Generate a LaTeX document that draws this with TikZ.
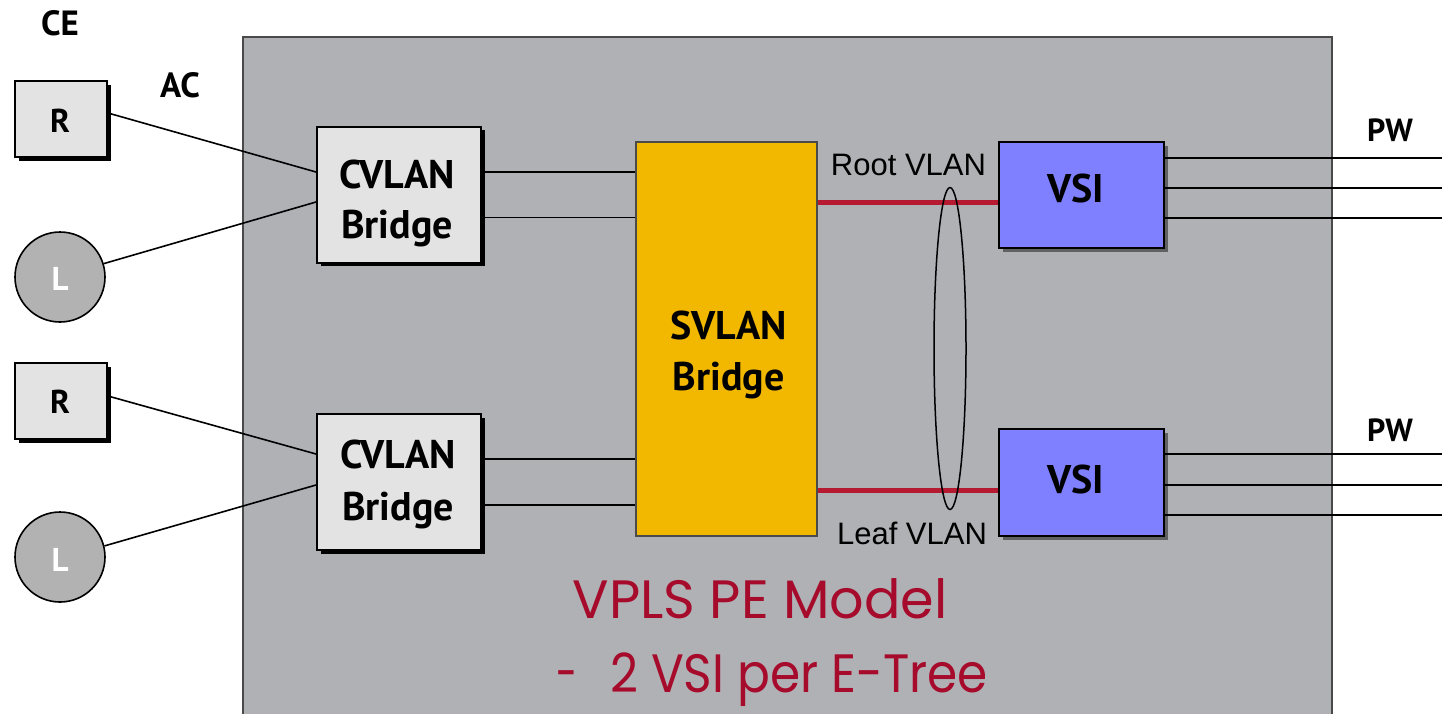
\documentclass[tikz,border=0pt]{standalone}
\usepackage{fontspec}
\setmainfont{PT Sans}
\newfontfamily\titlefont{Poppins}
\newfontfamily\arialfont{Liberation Sans}
\usetikzlibrary{shapes.geometric,shadows}
\definecolor{pebg}{HTML}{B0B1B5}
\definecolor{peedge}{HTML}{4A4A4A}
\definecolor{boxgray}{HTML}{E3E3E3}
\definecolor{circgray}{HTML}{B2B2B2}
\definecolor{svlanfill}{HTML}{F2B800}
\definecolor{vsiblue}{HTML}{7F80FF}
\definecolor{vlanred}{HTML}{B51A30}
\definecolor{titlered}{HTML}{A60B2C}
\begin{document}
\begin{tikzpicture}[x=1pt,y=-1pt,
  conn/.style={line width=1.6pt, black},
  vlanline/.style={line width=5pt, vlanred},
  rbox/.style={rectangle, draw=black, line width=2pt, fill=boxgray, inner sep=0pt,
    drop shadow={shadow xshift=3.5pt, shadow yshift=-3.5pt, fill=black, opacity=1}},
  lcirc/.style={circle, draw=black, line width=1.6pt, fill=circgray, inner sep=0pt, minimum size=90pt},
  svbox/.style={rectangle, draw=peedge, line width=1.6pt, fill=svlanfill, inner sep=0pt},
  vsibox/.style={rectangle, draw=black, line width=2.5pt, fill=vsiblue, inner sep=0pt,
    drop shadow={shadow xshift=4pt, shadow yshift=-4pt, fill=black, opacity=0.45}},
  bigbold/.style={font=\fontsize{40}{48}\selectfont\bfseries, anchor=base, inner sep=0pt},
  smallbold/.style={font=\fontsize{33}{38}\selectfont\bfseries, anchor=base, inner sep=0pt},
  headbold/.style={font=\fontsize{35}{42}\selectfont\bfseries, anchor=base, inner sep=0pt},
  vlantext/.style={font=\arialfont\fontsize{31}{36}\selectfont, anchor=base, inner sep=0pt},
  titletext/.style={font=\titlefont\fontsize{54}{62}\selectfont, text=titlered, anchor=base, inner sep=0pt}
]
\useasboundingbox (0,0) rectangle (1442,713);
\fill[white] (0,0) rectangle (1442,713);

% PE container
\node[rectangle, draw=peedge, line width=1.6pt, fill=pebg, inner sep=0pt,
  minimum width=1089pt, minimum height=700pt, anchor=north west] (pe) at (242,36) {};

% CE devices
\node[rbox, minimum width=92pt, minimum height=76pt] (r1) at (61,119) {};
\node[lcirc] (l1) at (60,277) {};
\node[rbox, minimum width=92pt, minimum height=76pt] (r2) at (61,401) {};
\node[lcirc, minimum height=86pt] (l2) at (60,557) {};

% CVLAN bridges
\node[rbox, minimum width=164pt, minimum height=136pt] (cv1) at (399,194.5) {};
\node[rbox, minimum width=164pt, minimum height=136pt] (cv2) at (399,482) {};

% SVLAN bridge
\node[svbox, minimum width=181pt, minimum height=394pt] (sv) at (726.5,339) {};

% VSIs
\node[vsibox, minimum width=165pt, minimum height=106pt] (vsi1) at (1081.5,195) {};
\node[vsibox, minimum width=165pt, minimum height=107pt] (vsi2) at (1081.5,482.5) {};

% AC connectors
\draw[conn] ([yshift=6pt]r1.east) -- ([yshift=22.5pt]cv1.west);
\draw[conn] (l1.17) -- ([yshift=-7.5pt]cv1.west);
\draw[conn] ([yshift=5pt]r2.east) -- ([yshift=28pt]cv2.west);
\draw[conn] (l2.14) -- ([yshift=-3pt]cv2.west);

% CVLAN to SVLAN
\coordinate (c1a) at ([yshift=22.5pt]cv1.east);
\coordinate (c1b) at ([yshift=-23pt]cv1.east);
\coordinate (c2a) at ([yshift=23pt]cv2.east);
\coordinate (c2b) at ([yshift=-23pt]cv2.east);
\draw[conn] (c1a) -- (c1a -| sv.west);
\draw[conn] (c1b) -- (c1b -| sv.west);
\draw[conn] (c2a) -- (c2a -| sv.west);
\draw[conn] (c2b) -- (c2b -| sv.west);

% VLAN lines
\coordinate (rv1) at ([yshift=-7.5pt]vsi1.west);
\coordinate (rv2) at ([yshift=-7.5pt]vsi2.west);
\draw[vlanline] (rv1 -| sv.east) -- (rv1);
\draw[vlanline] (rv2 -| sv.east) -- (rv2);

% grouping ellipse
\node[ellipse, draw=black, line width=1.5pt, inner sep=0pt,
  minimum width=32pt, minimum height=322pt] (grp) at (950,348.5) {};

% PW lines
\coordinate (pw1a) at (1442,158);
\coordinate (pw1b) at (1442,188);
\coordinate (pw1c) at (1442,218);
\coordinate (pw2a) at (1442,454);
\coordinate (pw2b) at (1442,485);
\coordinate (pw2c) at (1442,515);
\foreach \p in {pw1a,pw1b,pw1c}{\draw[conn] (vsi1.east |- \p) -- (\p);}
\foreach \p in {pw2a,pw2b,pw2c}{\draw[conn] (vsi2.east |- \p) -- (\p);}

% texts
\node[headbold] (tce) at (60,35) {CE};
\node[headbold] (tac) at (180,97) {AC};
\node[smallbold] (tr1) at (60,132) {R};
\node[smallbold, text=white] (tl1) at (60,290) {L};
\node[smallbold] (tr2) at (60,413) {R};
\node[smallbold, text=white] (tl2) at (60,571) {L};
\node[bigbold] (tcv1a) at (397,188) {CVLAN};
\node[bigbold] (tcv1b) at (397,238) {Bridge};
\node[bigbold] (tcv2a) at (398,468) {CVLAN};
\node[bigbold] (tcv2b) at (398,520) {Bridge};
\node[bigbold] (tsva) at (728.5,339) {SVLAN};
\node[bigbold] (tsvb) at (728.5,390) {Bridge};
\node[bigbold] (tvsi1) at (1076,202) {VSI};
\node[bigbold] (tvsi2) at (1076,493) {VSI};
\node[headbold, font=\fontsize{32}{38}\selectfont\bfseries] (tpw1) at (1390,141) {PW};
\node[headbold, font=\fontsize{32}{38}\selectfont\bfseries] (tpw2) at (1390,441) {PW};
\node[vlantext] (troot) at (908.5,175) {Root VLAN};
\node[vlantext] (tleaf) at (912,544) {Leaf VLAN};
\node[titletext] (tt1) at (760,618) {VPLS PE Model};
\node[titletext] (tt2) at (772,692) {\scalebox{0.9}[1]{\scalebox{0.6}[1]{–}\hspace{38pt}2 VSI per E-Tree}};
\end{tikzpicture}
\end{document}
